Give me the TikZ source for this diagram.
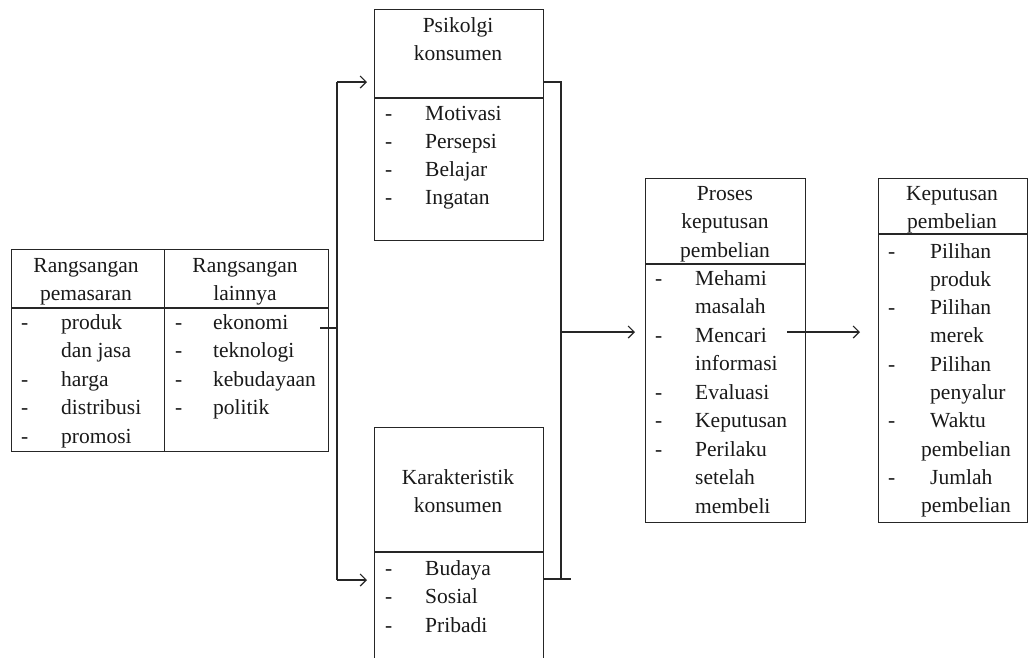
\documentclass[tikz,border=0pt]{standalone}
\usepackage{fontspec}
\setmainfont{Liberation Serif}
\usetikzlibrary{arrows.meta, positioning, calc}

\tikzset{
  box/.style={draw=black!85, line width=1.2pt, anchor=north west, inner sep=0pt},
  txt/.style={anchor=base west, inner sep=0pt, text=black!90, font=\fontsize{21.5}{28}\selectfont},
  head/.style={anchor=base, inner sep=0pt, text=black!90, font=\fontsize{21.5}{28}\selectfont},
  wire/.style={draw=black!85, line width=1.2pt},
  arr/.style={wire, -{Straight Barb[length=6pt,width=12pt]}}
}

\begin{document}
\begin{tikzpicture}[x=1pt, y=-1pt]
        \useasboundingbox (0,0) rectangle (1029,657);
        \clip (0,0) rectangle (1029,657);

        % Define the boxes
        \node[box, minimum width=153, minimum height=202] (pem) at (11,249) {};
        \node[box, minimum width=164, minimum height=202] (lain) at (164,249) {};
        \node[box, minimum width=169, minimum height=231] (psi) at (374,9) {};
        \node[box, minimum width=169, minimum height=270] (kar) at (374,427) {};
        \node[box, minimum width=160, minimum height=344] (pros) at (645,178) {};
        \node[box, minimum width=149, minimum height=344] (kep) at (878,178) {};

        % Header lines
        \draw[wire] ($(pem.north west)+(0,59)$) -- ($(lain.north east)+(0,59)$);
        \draw[wire] ($(psi.north west)+(0,89)$) -- ($(psi.north east)+(0,89)$);
        \draw[wire] ($(kar.north west)+(0,125)$) -- ($(kar.north east)+(0,125)$);
        \draw[wire] ($(pros.north west)+(0,86)$) -- ($(pros.north east)+(0,86)$);
        \draw[wire] ($(kep.north west)+(0,56)$) -- ($(kep.north east)+(0,56)$);

        % Headers
        \node[head] (pem-h1) at (86,272) {Rangsangan};
        \node[head] (pem-h2) at (86,300) {pemasaran};
        \node[head] (lain-h1) at (245,272) {Rangsangan};
        \node[head] (lain-h2) at (245,300) {lainnya};
        \node[head] (psi-h1) at (458,32) {Psikolgi};
        \node[head] (psi-h2) at (458,60) {konsumen};
        \node[head] (kar-h1) at (458,484) {Karakteristik};
        \node[head] (kar-h2) at (458,512) {konsumen};
        \node[head] (pros-h1) at (725,200) {Proses};
        \node[head] (pros-h2) at (725,228) {keputusan};
        \node[head] (pros-h3) at (725,257) {pembelian};
        \node[head] (kep-h1) at (952,200) {Keputusan};
        \node[head] (kep-h2) at (952,228) {pembelian};

        % Items
        \foreach \t [count=\i from 0] in {produk, dan jasa, harga, distribusi, promosi}
            \node[txt] (pem-\i) at (61,329+28.5*\i) {\t};
        \foreach \i in {0,2,3,4}
            \node[txt] (pem-d\i) at (21,329+28.5*\i) {-};
        \foreach \t [count=\i from 0] in {ekonomi, teknologi, kebudayaan, politik} {
            \node[txt] (lain-\i) at (213,329+28.5*\i) {\t};
            \node[txt] (lain-d\i) at (175,329+28.5*\i) {-};
        }
        \foreach \t [count=\i from 0] in {Motivasi, Persepsi, Belajar, Ingatan} {
            \node[txt] (psi-\i) at (425,120+28*\i) {\t};
            \node[txt] (psi-d\i) at (385,120+28*\i) {-};
        }
        \foreach \t [count=\i from 0] in {Budaya, Sosial, Pribadi} {
            \node[txt] (kar-\i) at (425,575+28.5*\i) {\t};
            \node[txt] (kar-d\i) at (385,575+28.5*\i) {-};
        }
        \foreach \t [count=\i from 0] in {Mehami, masalah, Mencari, informasi, Evaluasi, Keputusan, Perilaku, setelah, membeli}
            \node[txt] (pros-\i) at (695,285+28.5*\i) {\t};
        \foreach \i in {0,2,4,5,6}
            \node[txt] (pros-d\i) at (655,285+28.5*\i) {-};
        \foreach \t [count=\i from 0] in {Pilihan, produk, Pilihan, merek, Pilihan, penyalur, Waktu}
            \node[txt] (kep-\i) at (930,258+28.3*\i) {\t};
        \node[txt] (kep-7) at (921,258+28.3*7) {pembelian};
        \node[txt] (kep-8) at (930,258+28.3*8) {Jumlah};
        \node[txt] (kep-9) at (921,258+28.3*9) {pembelian};
        \foreach \i in {0,2,4,6,8}
            \node[txt] (kep-d\i) at (888,258+28.3*\i) {-};

        % Draw connectors
        \coordinate (eko-out) at (320,328);
        \coordinate (bus-top) at (337,82);
        \coordinate (bus-bot) at (337,580);
        \coordinate (rbus-bot) at (561,579);
        \coordinate (kar-tick) at (571,579);
        \coordinate (mid) at (561,332);
        \coordinate (pros-out) at (787,332);

        \draw[wire] (eko-out) -- (bus-top |- eko-out);
        \draw[wire] (bus-top) -- (bus-bot);
        \draw[arr, shorten >=7pt] (bus-top) -- (psi.west |- bus-top);
        \draw[arr, shorten >=7pt] (bus-bot) -- (kar.west |- bus-bot);
        \draw[wire] (psi.east |- bus-top) -| (rbus-bot);
        \draw[wire] (kar.east |- rbus-bot) -- (kar-tick);
        \draw[arr, shorten >=10pt] (mid) -- (pros.west |- mid);
        \draw[arr, shorten >=18pt] (pros-out) -- (kep.west |- pros-out);
    \end{tikzpicture}
\end{document}
